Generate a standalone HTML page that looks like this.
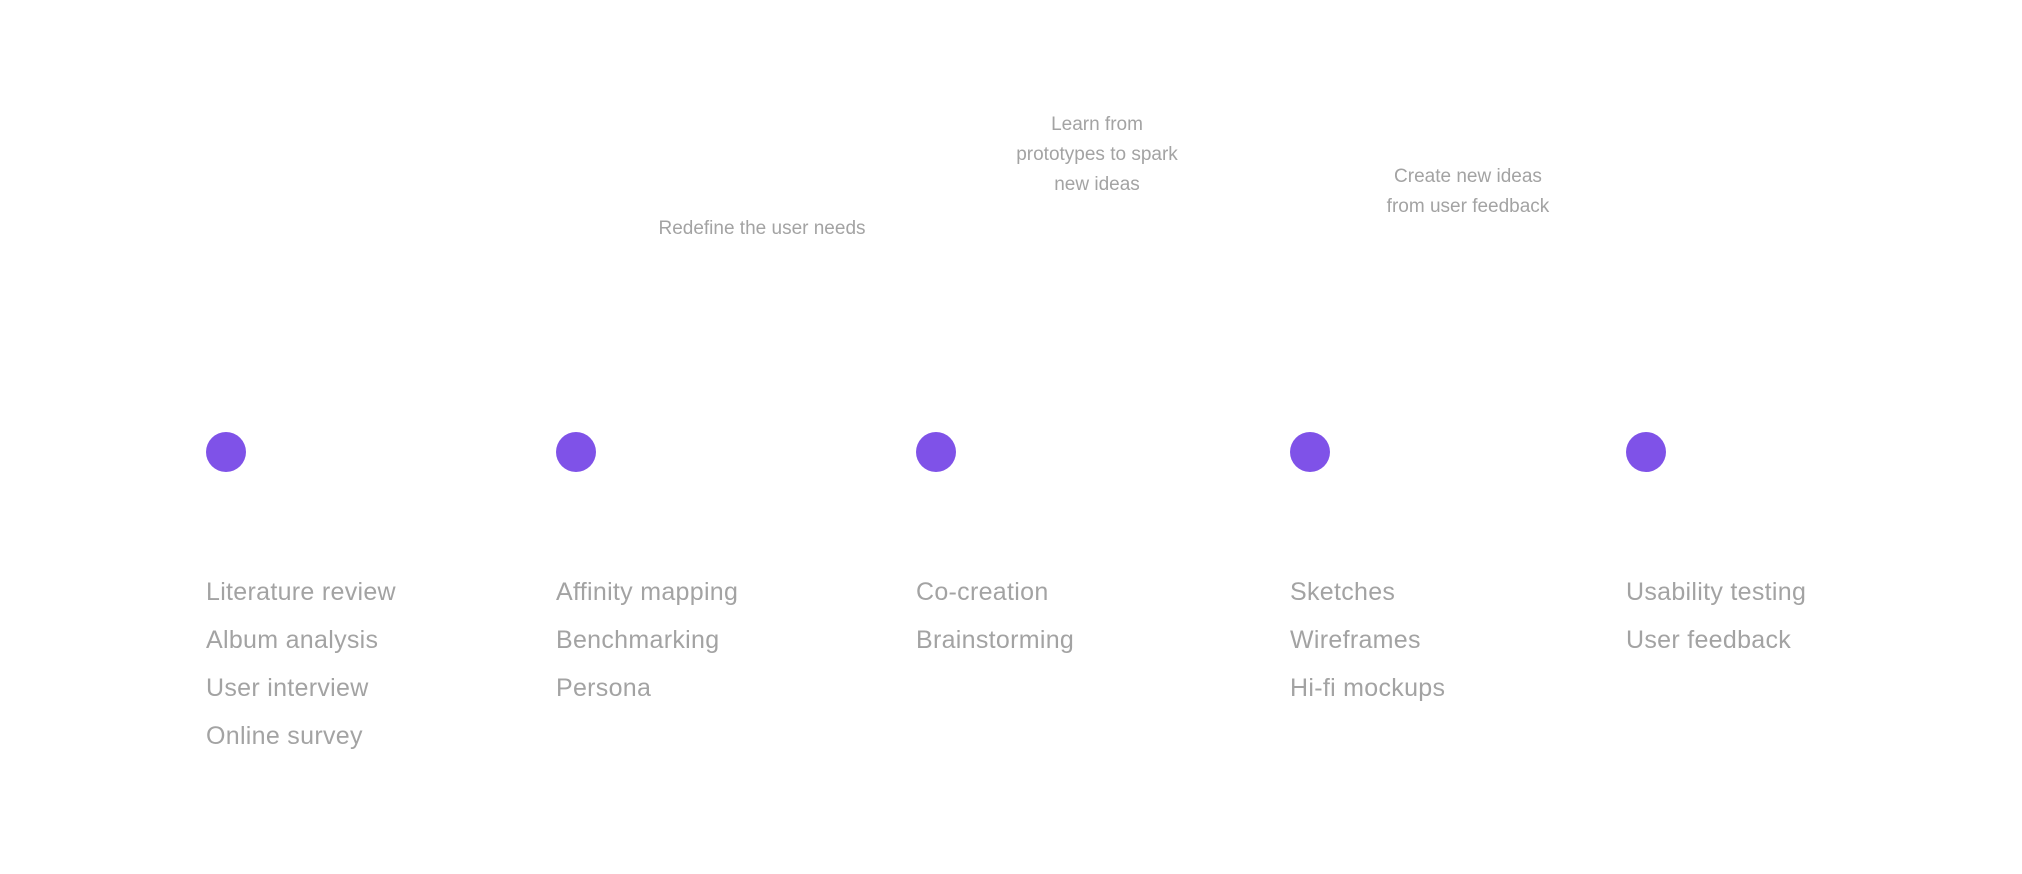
<!DOCTYPE html>
<html><head><meta charset="utf-8"><style>
html,body{margin:0;padding:0;background:#fff;}
body{width:2022px;height:874px;position:relative;overflow:hidden;font-family:"Liberation Sans",sans-serif;color:#a3a3a3;}
.c{position:absolute;width:40px;height:40px;border-radius:50%;background:#7f52e8;top:432px;}
.col{position:absolute;top:568px;font-size:25px;line-height:48px;letter-spacing:0.3px;white-space:nowrap;}
.t{position:absolute;font-size:19px;line-height:30px;text-align:center;white-space:nowrap;transform:translateX(-50%);}
</style></head><body>
<div class="t" style="left:762px;top:214px;">Redefine the user needs</div>
<div class="t" style="left:1097px;top:110px;">Learn from<br>prototypes to spark<br>new ideas</div>
<div class="t" style="left:1468px;top:162px;">Create new ideas<br>from user feedback</div>

<div class="c" style="left:206px"></div>
<div class="c" style="left:556px"></div>
<div class="c" style="left:916px"></div>
<div class="c" style="left:1290px"></div>
<div class="c" style="left:1626px"></div>

<div class="col" style="left:206px">Literature review<br>Album analysis<br>User interview<br>Online survey</div>
<div class="col" style="left:556px">Affinity mapping<br>Benchmarking<br>Persona</div>
<div class="col" style="left:916px">Co-creation<br>Brainstorming</div>
<div class="col" style="left:1290px">Sketches<br>Wireframes<br>Hi-fi mockups</div>
<div class="col" style="left:1626px">Usability testing<br>User feedback</div>
</body></html>
